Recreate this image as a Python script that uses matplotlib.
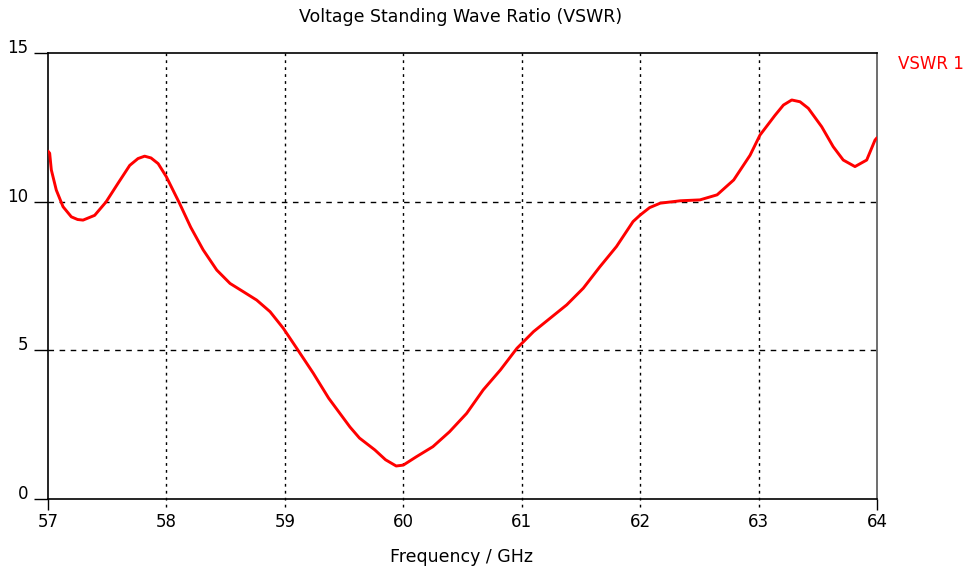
import matplotlib
matplotlib.use('Agg')
import matplotlib.pyplot as plt

# values
freq = [57.000, 57.014, 57.028, 57.070, 57.127, 57.197, 57.250, 57.296, 57.394,
        57.490, 57.590, 57.690, 57.760, 57.816, 57.870, 57.930, 57.999, 58.110,
        58.205, 58.310, 58.425, 58.537, 58.650, 58.762, 58.875, 58.987, 59.100,
        59.240, 59.370, 59.550, 59.630, 59.760, 59.850, 59.940, 60.000, 60.110,
        60.250, 60.390, 60.535, 60.675, 60.820, 60.960, 61.100, 61.240, 61.380,
        61.520, 61.660, 61.800, 61.940, 62.000, 62.080, 62.170, 62.340, 62.505,
        62.650, 62.790, 62.928, 63.012, 63.138, 63.210, 63.280, 63.350, 63.420,
        63.533, 63.630, 63.715, 63.814, 63.913, 63.983, 64.000]
vswr = [11.70, 11.63, 11.07, 10.39, 9.83, 9.49, 9.40, 9.38, 9.54,
        9.99, 10.61, 11.22, 11.45, 11.53, 11.47, 11.28, 10.84, 9.95,
        9.14, 8.38, 7.70, 7.25, 6.97, 6.69, 6.30, 5.74, 5.07,
        4.23, 3.39, 2.42, 2.05, 1.65, 1.32, 1.11, 1.14, 1.42,
        1.76, 2.26, 2.88, 3.67, 4.34, 5.07, 5.63, 6.08, 6.53,
        7.09, 7.81, 8.49, 9.33, 9.55, 9.80, 9.95, 10.03, 10.06,
        10.23, 10.73, 11.56, 12.24, 12.90, 13.25, 13.42, 13.36, 13.14,
        12.52, 11.85, 11.40, 11.18, 11.40, 12.07, 12.15]

x_ticks = [57, 58, 59, 60, 61, 62, 63, 64]
y_ticks = [0, 5, 10, 15]
title = 'Voltage Standing Wave Ratio (VSWR)'
x_label = 'Frequency / GHz'
legend_label = 'VSWR 1'

plt.rcParams['font.family'] = ['DejaVu Sans']

fig = plt.figure(figsize=(9.72, 5.68), dpi=100)
ax = fig.add_axes([48 / 972, 1 - 499 / 568, 829 / 972, 446 / 568])

ax.plot(freq, vswr, color='#ff0000', lw=2.1, zorder=3,
        solid_joinstyle='round', solid_capstyle='round')

ax.set_xlim(57, 64)
ax.set_ylim(0, 15)
ax.set_xticks(x_ticks)
ax.set_yticks(y_ticks)
ax.set_xticklabels([str(t) for t in x_ticks], fontsize=12)
ax.set_yticklabels([str(t) for t in y_ticks], fontsize=12)

ax.tick_params(axis='x', length=8, width=1, pad=2, color='black')
ax.tick_params(axis='y', length=10, width=1, pad=4, color='black')
for lab in ax.get_yticklabels():
    lab.set_verticalalignment('baseline')

# dotted vertical grid, carried down below the axis like the ticks
xt = ax.xaxis.get_major_ticks()
for i, t in enumerate(x_ticks):
    if 0 < i < len(x_ticks) - 1:
        xt[i].tick1line.set_visible(False)
        ax.axvline(t, ymin=-0.018, ymax=1, color='black', lw=1,
                   ls=(0, (2, 3)), clip_on=False, zorder=1)
for t in y_ticks[1:-1]:
    ax.axhline(t, color='black', lw=1, ls=(0, (4, 4)), zorder=1)

for side in ['left', 'bottom', 'top']:
    ax.spines[side].set_color('black')
    ax.spines[side].set_linewidth(1.2)
ax.spines['right'].set_color('#555555')
ax.spines['right'].set_linewidth(1.2)

fig.text(461 / 972, 1 - 17 / 568, title, fontsize=12.5,
         ha='center', va='center')
fig.text(461 / 972, 1 - 557 / 568, x_label, fontsize=12.5,
         ha='center', va='center')
fig.text(931 / 972, 1 - 64 / 568, legend_label, color='#ff0000',
         fontsize=12, ha='center', va='center')

fig.savefig('out.png', dpi=100)
